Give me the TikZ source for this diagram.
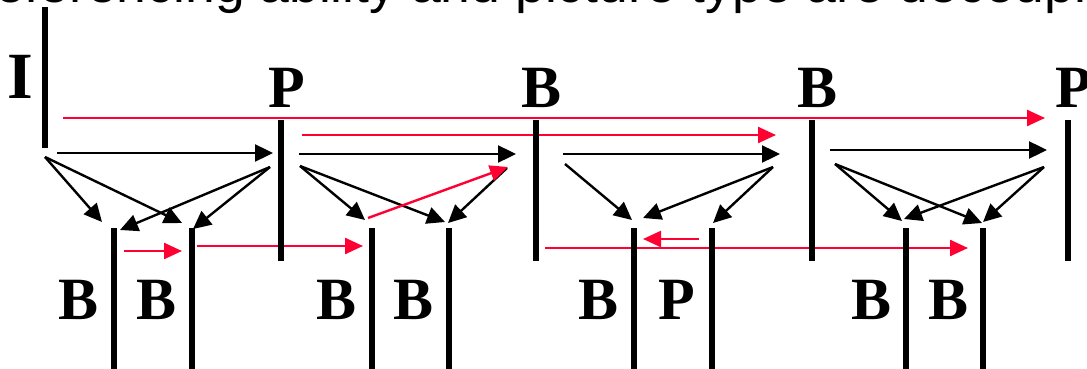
\documentclass[tikz,border=0pt]{standalone}
\usepackage{fontspec}
\setmainfont{Liberation Serif}
\newfontfamily\capfont{Liberation Sans}
\usetikzlibrary{arrows.meta, positioning, calc, backgrounds}
\definecolor{cred}{HTML}{FF0033}
\tikzset{
  bar/.style={fill=black, inner sep=0pt, minimum width=5.5pt, minimum height=#1, anchor=north},
  framelabel/.style={font=\fontsize{60}{60}\selectfont\bfseries, inner sep=0pt},
  fwd/.style={-{Triangle[length=18pt, width=17pt]}, line width=2.4pt},
  ref/.style={fwd, draw=cred, -{Triangle[length=18pt, width=16pt, fill=cred]}},
}
\begin{document}
\begin{tikzpicture}[x=1pt, y=-1pt]
  \useasboundingbox (0,0) rectangle (1087,369);
  \clip (0,0) rectangle (1087,369);
  % caption line, cut at the top
  \node[anchor=base west, inner sep=0pt, font=\capfont\fontsize{53.5}{60}\selectfont] (cap) at (-23,3) {referencing ability and picture type are decoupled};
  % frames
  \node[bar=141pt] (f0) at (45,7) {};
  \foreach \x [count=\n] in {281, 536, 812, 1068}
    \node[bar=141pt] (f\n) at (\x,120) {};
  \foreach \x [count=\n] in {114, 192, 372, 449, 634, 712, 906, 983}
    \node[bar=150pt] (b\n) at (\x,228) {};
  % frame types
  \node[framelabel, scale=1.1] (lI) at (20,77) {I};
  \foreach \t [count=\n] in {P, B, B, P}
    \node[framelabel] (t\n) at ($(f\n.north)+(6,-32)$) {\t};
  \foreach \t [count=\n] in {B, B, B, B, B, P, B, B}
    \node[framelabel] (l\n) at ($(b\n.north)+(-35,72)$) {\t};
  \begin{scope}[on background layer]
  % forward references
  \draw[fwd] ($(f0.north)+(12,146)$) -- ($(f1.north)+(-8,33)$);
  \draw[fwd] ($(f1.north)+(18,34)$) -- ($(f2.north)+(-20,34)$);
  \draw[fwd] ($(f2.north)+(27,34)$) -- ($(f3.north)+(-32,34)$);
  \draw[fwd] ($(f3.north)+(18,30)$) -- ($(f4.north)+(-21,30)$);
  \foreach \a/\da/\b/\db in {f0/{0,150}/b1/{-12,-6}, f0/{0,150}/b2/{-10,-5},
      f1/{-11,47}/b1/{6,2}, f1/{-11,47}/b2/{1,1}, f1/{19,46}/b3/{-7,-8}, f1/{19,46}/b4/{-4,-6},
      f2/{-29,48}/b4/{-1,-5}, f2/{29,44}/b5/{-2,-8}, f3/{-39,47}/b5/{9,-10}, f3/{-39,47}/b6/{1,-5},
      f3/{23,44}/b7/{-4,-7}, f3/{23,44}/b8/{-1,-5}, f4/{-24,47}/b7/{-2,-9}, f4/{-24,47}/b8/{0,-6}}
    \draw[fwd] ($(\a.north)+(\da)$) -- ($(\b.north)+(\db)$);
  % decoupled references
  \draw[ref] ($(f0.north)+(18,111)$) -- ($(f4.north)+(-23,-2)$);
  \draw[ref] ($(f1.north)+(21,15)$) -- ($(f3.north)+(-36,15)$);
  \draw[ref] ($(b1.north)+(10,23)$) -- ($(b2.north)+(-10,23)$);
  \draw[ref] ($(b2.north)+(5,18)$) -- ($(b3.north)+(-9,18)$);
  \draw[ref] ($(b3.north)+(-4,-10)$) -- ($(f2.north)+(-28,47)$);
  \draw[ref] ($(b6.north)+(-13,11)$) -- ($(b5.north)+(9,11)$);
  \draw[ref] ($(f2.north)+(9,128)$) -- ($(b8.north)+(-15,20)$);
  \end{scope}
\end{tikzpicture}
\end{document}
